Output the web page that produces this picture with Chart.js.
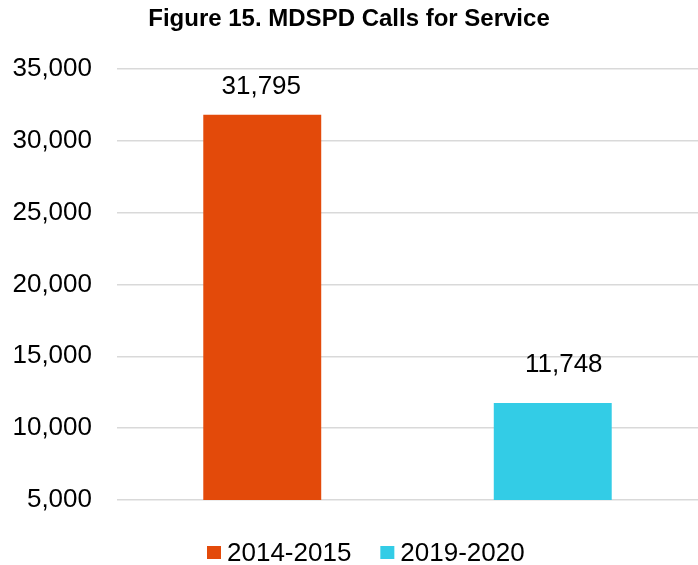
<!DOCTYPE html>
<html><head><meta charset="utf-8">
<script src="https://cdn.jsdelivr.net/npm/chart.js@4"></script>
<style>html,body{margin:0;padding:0;background:#fff;}#wrap{width:698px;height:565px;}</style>
</head><body><div id="wrap"><canvas id="c"></canvas></div>
<script>
const categories = ['2014-2015', '2019-2020'];
const callValues = [31795, 11748];
const barColors = ['#E34A0A', '#33CCE6'];
const yTicks = [5000, 10000, 15000, 20000, 25000, 30000, 35000];
const titleText = 'Figure 15. MDSPD Calls for Service';

const FONT = '"Liberation Sans", Arial, sans-serif';

const valueLabels = {
  id: 'valueLabels',
  afterDatasetsDraw(chart, args, opts) {
    const ctx = chart.ctx;
    const meta = chart.getDatasetMeta(0);
    ctx.save();
    ctx.font = '26px ' + FONT;
    ctx.fillStyle = '#000';
    ctx.textAlign = 'center';
    ctx.textBaseline = 'middle';
    meta.data.forEach((bar, i) => {
      const off = opts.offsets[i] || [0, -28];
      ctx.fillText(callValues[i].toLocaleString('en-US'), bar.x + off[0], bar.y + off[1]);
    });
    ctx.restore();
  }
};

// simple bottom legend drawn from categories / barColors
const bottomLegend = {
  id: 'bottomLegend',
  afterDraw(chart, args, opts) {
    const ctx = chart.ctx;
    ctx.save();
    ctx.font = '26px ' + FONT;
    ctx.fillStyle = '#000';
    ctx.textBaseline = 'middle';
    ctx.textAlign = 'left';
    let x = opts.startX;
    const y = opts.y;
    categories.forEach((c, i) => {
      ctx.fillStyle = barColors[i];
      ctx.fillRect(x, y - 6.5, 14, 13);
      x += 14 + 6;
      ctx.fillStyle = '#000';
      ctx.fillText(c, x, y + 1);
      x += ctx.measureText(c).width + 29;
    });
    ctx.restore();
  }
};

new Chart(document.getElementById('c'), {
  type: 'bar',
  data: {
    labels: categories,
    datasets: [{ data: callValues, backgroundColor: barColors, categoryPercentage: 1, barPercentage: 0.406 }]
  },
  options: {
    responsive: true,
    maintainAspectRatio: false,
    animation: false,
    layout: { padding: { top: 0, right: 0, left: 0, bottom: 65 } },
    plugins: {
      valueLabels: { offsets: [[-1, -28], [11, -38]] },
      bottomLegend: { startX: 207, y: 552.5 },
      title: {
        display: true, text: titleText, color: '#000',
        font: { family: FONT, size: 24, weight: 'bold' },
        padding: { top: 5, bottom: 35 }
      },
      legend: { display: false },
      tooltip: { enabled: false }
    },
    scales: {
      x: { display: false, grid: { display: false } },
      y: {
        min: 5000, max: 35000,
        afterFit(scale) { scale.width = 117; },
        afterBuildTicks(scale) { scale.ticks = yTicks.map(v => ({ value: v })); },
        border: { display: false },
        grid: { color: '#D9D9D9', lineWidth: 1.5, drawTicks: false },
        ticks: {
          color: '#000', padding: 25,
          font: { family: FONT, size: 26 },
          callback: v => v.toLocaleString('en-US')
        }
      }
    }
  },
  plugins: [valueLabels, bottomLegend]
});
</script></body></html>
